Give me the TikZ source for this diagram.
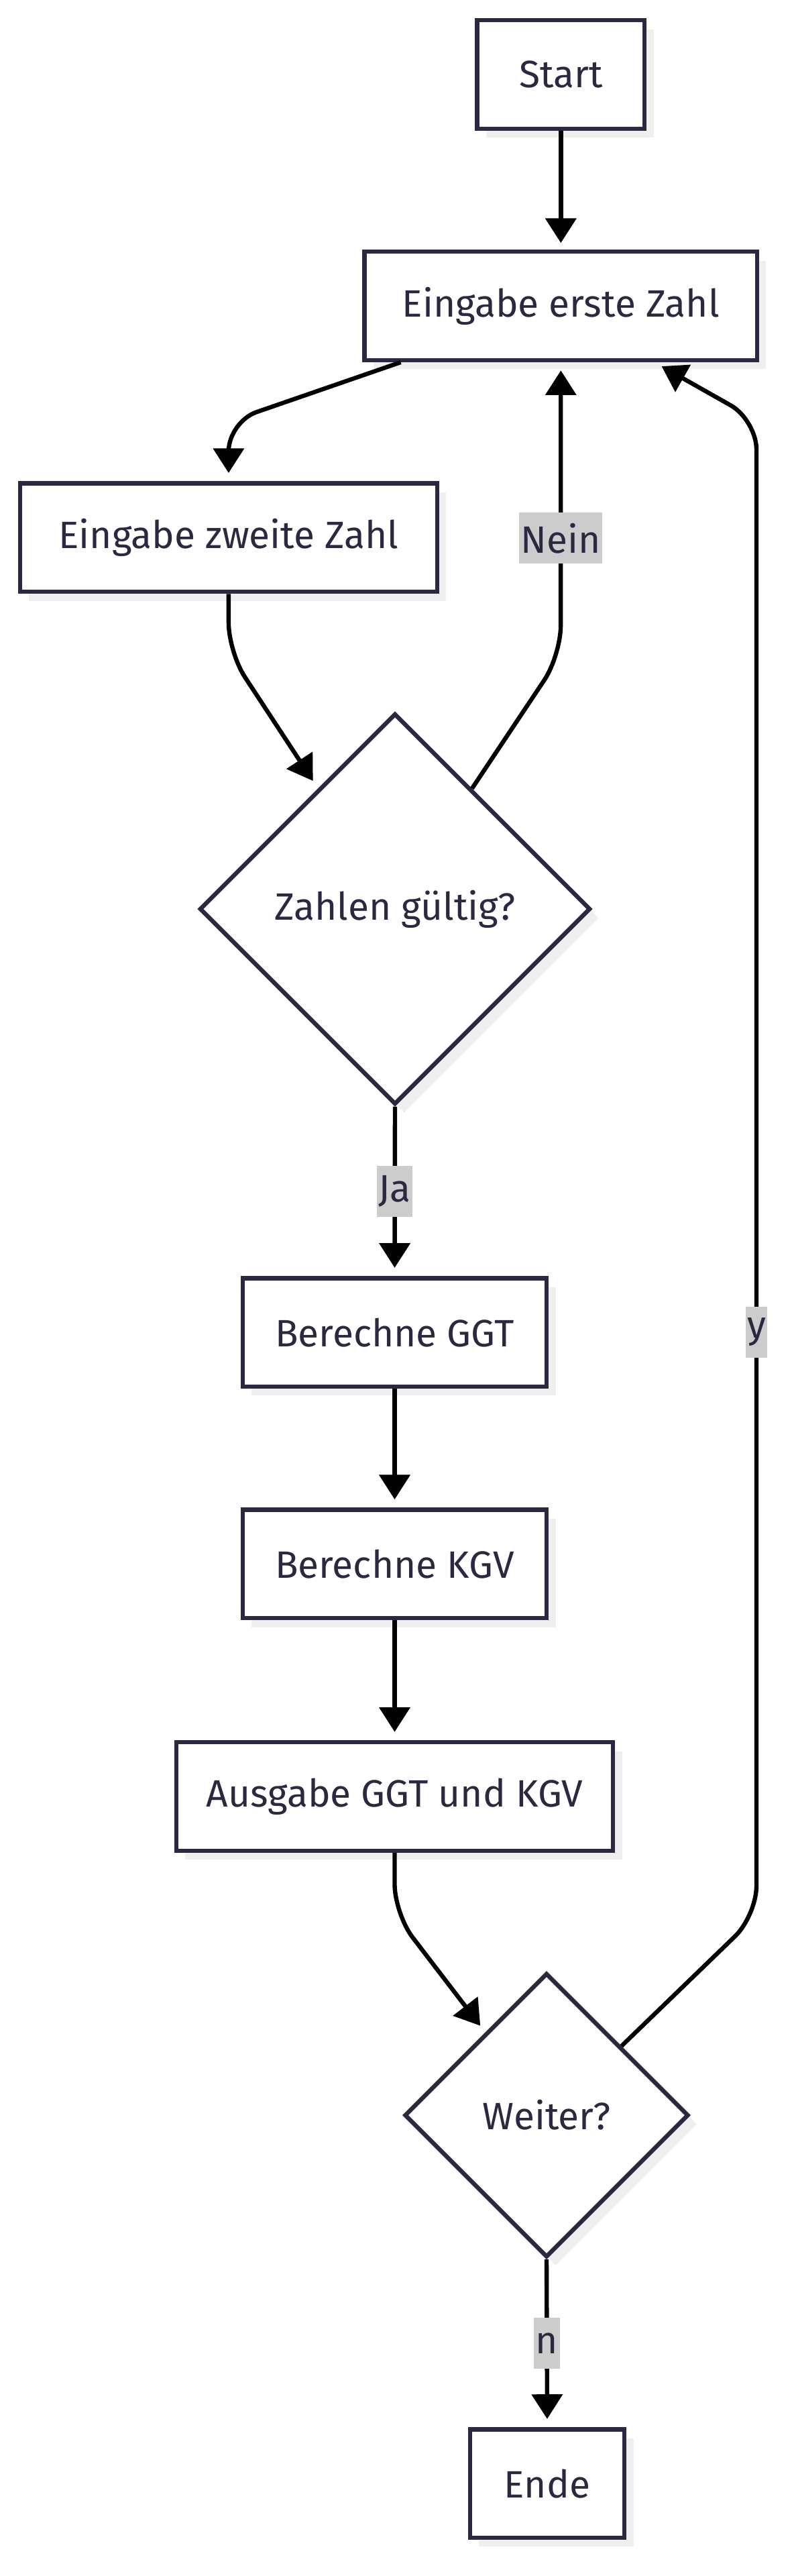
\documentclass[tikz,border=0pt]{standalone}
\usepackage{fontspec}
\setmainfont{Fira Sans}
\usetikzlibrary{shapes.geometric,shadows,arrows.meta,calc}
\definecolor{knotenrand}{RGB}{42,41,64}
\definecolor{schatten}{RGB}{239,239,239}
\definecolor{labelgrau}{RGB}{204,204,204}

\begin{document}
\begin{tikzpicture}[x=1pt, y=-1pt]
            \tikzset{
                cshadow/.style={drop shadow={shadow xshift=5.5pt, shadow yshift=-5.5pt, fill=schatten, opacity=1}},
                cfont/.style={font=\fontsize{23.2}{27}\selectfont, text=knotenrand},
                cbox/.style={rectangle, draw=knotenrand, line width=2.6pt, fill=white, minimum height=66pt, inner sep=0pt, cshadow, cfont},
                cdecide/.style={diamond, aspect=1, draw=knotenrand, line width=2.6pt, fill=white, inner sep=0pt, cshadow, cfont},
                carrow/.style={-{Triangle[length=15pt, width=18.5pt]}, line width=2.6pt, black, rounded corners=18pt},
                clabel/.style={sharp corners, fill=labelgrau, inner xsep=1pt, inner ysep=0pt, minimum height=31pt, cfont}
            }
            \useasboundingbox (0, 0) rectangle (482.2, 1568);

            % Knoten:
            \node[cbox, minimum width=102pt] (start) at (341.5, 45.3) {Start};
            \node[cbox, minimum width=239pt] (ersteZahl) at (341.5, 186.2) {Eingabe erste Zahl};
            \node[cbox, minimum width=254pt] (zweiteZahl) at (139.2, 327.2) {Eingabe zweite Zahl};
            \node[cdecide, minimum size=238pt] (gueltig) at (240.5, 553.3) {Zahlen gültig?};
            \node[cbox, minimum width=185pt] (ggt) at (240.3, 811) {Berechne GGT};
            \node[cbox, minimum width=185pt] (kgv) at (240.3, 952) {Berechne KGV};
            \node[cbox, minimum width=266pt] (ausgabe) at (240.3, 1093.5) {Ausgabe GGT und KGV};
            \node[cdecide, minimum size=173pt] (weiter) at (332.8, 1287.5) {Weiter?};
            \node[cbox, minimum width=94pt] (ende) at (333.2, 1511.7) {Ende};

            % Kanten:
            \draw[carrow, shorten >=4pt] (start) -- (ersteZahl);
            \draw[carrow, shorten >=5pt] ([xshift=-97.5pt]ersteZahl.south) -- (139.2, 256.7) -- (zweiteZahl.north);
            \draw[carrow, shorten >=5.5pt] (zweiteZahl.south) -- (139.2, 397) -- ($(gueltig.north)!0.39!(gueltig.west)$);
            \draw[carrow, shorten >=5pt] ($(gueltig.north)!0.39!(gueltig.east)$) -- (341.4, 399)
                -- node[clabel, pos=0.4] {Nein} (ersteZahl.south);
            \draw[carrow, shorten >=5pt] (gueltig.south) -- node[clabel] {Ja} (ggt.north);
            \draw[carrow, shorten >=5pt] (ggt) -- (kgv);
            \draw[carrow, shorten >=5pt] (kgv) -- (ausgabe);
            \draw[carrow, shorten >=5pt] (ausgabe.south) -- (240.3, 1165) -- ($(weiter.north)!0.425!(weiter.west)$);
            \draw[carrow, shorten >=5pt] ($(weiter.north)!0.52!(weiter.east)$) -- (460.6, 1166)
                -- node[clabel, pos=0.39] {y} (460.6, 255.6) -- ([xshift=57pt]ersteZahl.south);
            \draw[carrow, shorten >=5pt] (weiter.south) -- node[clabel] {n} (ende.north);
        \end{tikzpicture}
\end{document}
